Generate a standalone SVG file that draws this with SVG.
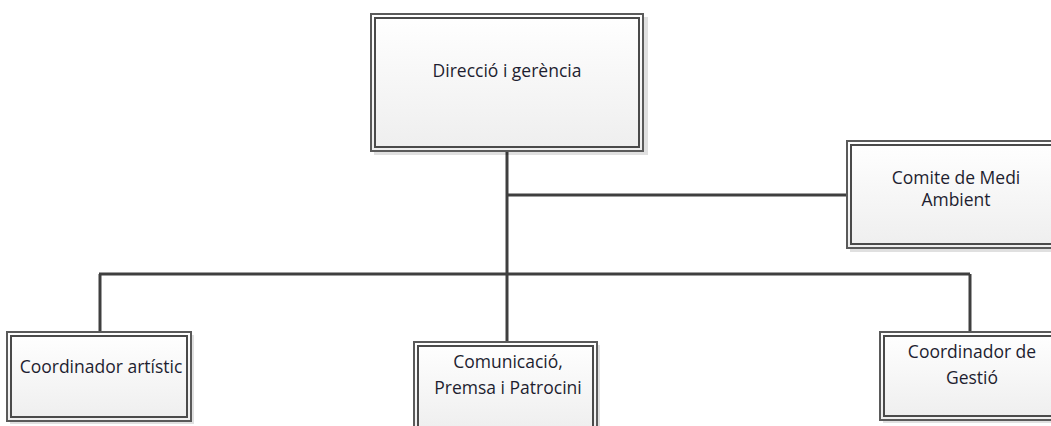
<svg xmlns="http://www.w3.org/2000/svg" width="1051" height="426" viewBox="0 0 1051 426">
<defs>
<linearGradient id="g" x1="0" y1="0" x2="0" y2="1">
<stop offset="0" stop-color="#ffffff"/>
<stop offset="1" stop-color="#eeeeee"/>
</linearGradient>
<style>
.sh{fill:#000;opacity:0.12}
.outer{fill:url(#g);stroke:#5a5a5a;stroke-width:2}
.inner{fill:none;stroke:#4a4a4a;stroke-width:2}
.t{font-family:"Open Sans","Liberation Sans",sans-serif;font-size:17.5px;fill:#1e1e30;text-anchor:middle}
.c{fill:none;stroke:#3f3f3f;stroke-width:3}
</style>
</defs>
<rect width="1051" height="426" fill="#ffffff"/>
<g id="connectors">
<path class="c" d="M507 151 V342"/>
<path class="c" d="M507 195 H848"/>
<path class="c" d="M99 274 H970"/>
<path class="c" d="M100 274 V332"/>
<path class="c" d="M970 274 V332"/>
</g>
<g id="node-direccio">
<rect class="sh" x="374" y="17" width="274" height="138"/>
<rect class="outer" x="371" y="14" width="272" height="137"/>
<rect class="inner" x="375" y="18" width="264" height="129"/>
<text class="t" x="507" y="77">Direcció i gerència</text>
</g>
<g id="node-comite">
<rect class="sh" x="850" y="144" width="210" height="108"/>
<rect class="outer" x="847" y="141" width="210" height="107"/>
<rect class="inner" x="851" y="145" width="202" height="99"/>
<text class="t" x="956" y="184">Comite de Medi</text>
<text class="t" x="956" y="206">Ambient</text>
</g>
<g id="node-artistic">
<rect class="sh" x="10" y="335" width="184" height="89"/>
<rect class="outer" x="7" y="332" width="184" height="89"/>
<rect class="inner" x="11" y="336" width="176" height="81"/>
<text class="t" x="101" y="373">Coordinador artístic</text>
</g>
<g id="node-comunicacio">
<rect class="sh" x="417" y="345" width="183" height="90"/>
<rect class="outer" x="414" y="342" width="183" height="90"/>
<rect class="inner" x="418" y="346" width="175" height="90"/>
<text class="t" x="508" y="368">Comunicació,</text>
<text class="t" x="508" y="394">Premsa i Patrocini</text>
</g>
<g id="node-gestio">
<rect class="sh" x="883" y="335" width="180" height="88"/>
<rect class="outer" x="880" y="332" width="180" height="88"/>
<rect class="inner" x="884" y="336" width="172" height="80"/>
<text class="t" x="972" y="358">Coordinador de</text>
<text class="t" x="972" y="384">Gestió</text>
</g>
</svg>
